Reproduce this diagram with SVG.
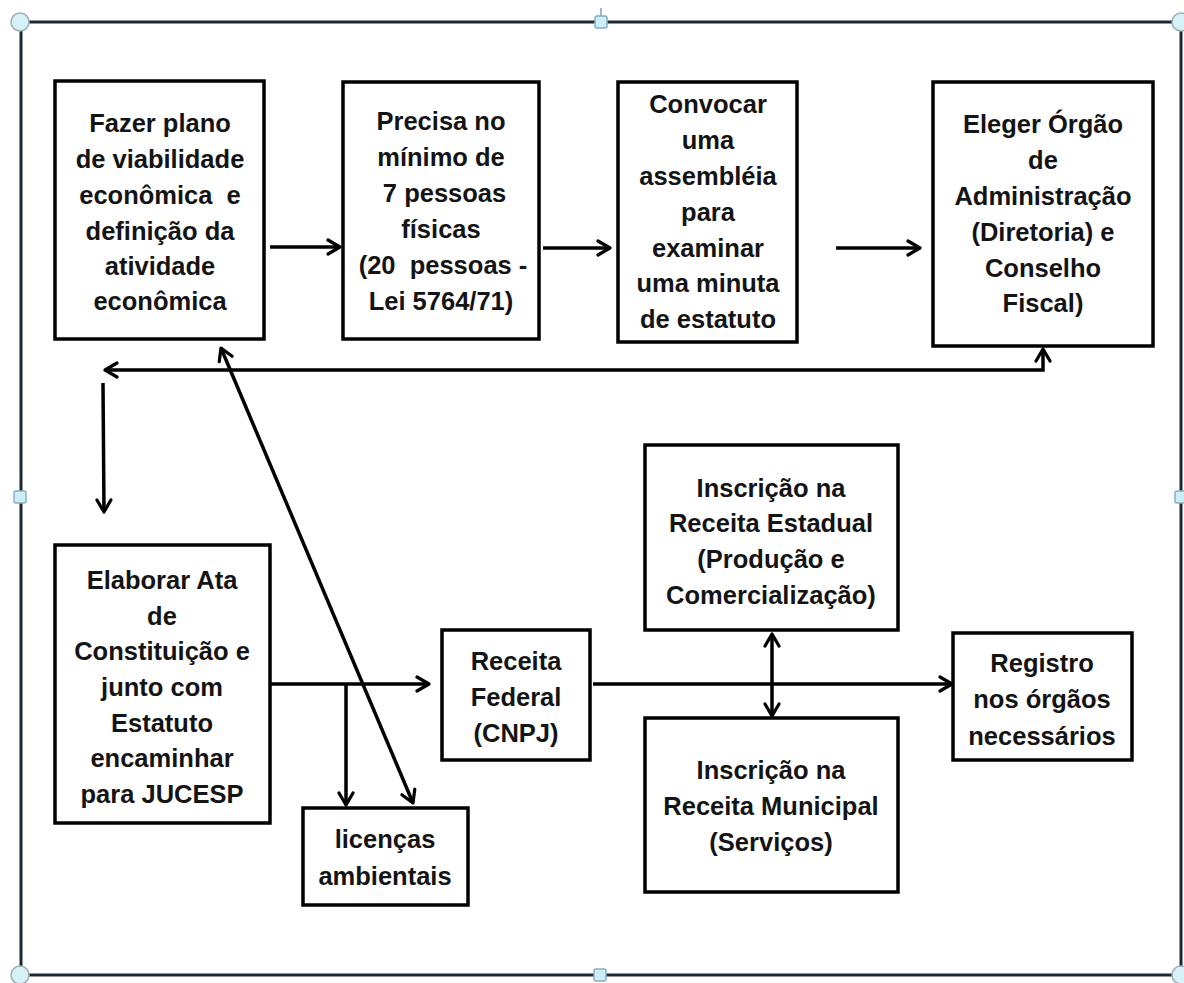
<svg xmlns="http://www.w3.org/2000/svg" width="1184" height="983" viewBox="0 0 1184 983">
  <style>
    .box { fill: #ffffff; stroke: #000000; stroke-width: 3.5; }
    .lbl { font-family: "Liberation Sans", Arial, sans-serif; font-weight: bold; font-size: 25.5px; fill: #141414; text-anchor: middle; white-space: pre; }
    .wire { fill: none; stroke: #000000; stroke-width: 3.5; }
    .frame { fill: none; stroke: #1c2833; stroke-width: 3; }
    .hc { fill: #d6f2f7; stroke: #a3aeb4; stroke-width: 1.5; }
    .hs { fill: #cdeef6; stroke: #88aec4; stroke-width: 1.5; }
  </style>
  <defs>
    <marker id="head" viewBox="0 0 18 18" refX="16" refY="9" markerWidth="18" markerHeight="18" markerUnits="userSpaceOnUse" orient="auto-start-reverse">
      <path d="M4,2 L16,9 L4,16" fill="none" stroke="#000" stroke-width="3.2" stroke-linecap="round" stroke-linejoin="round"/>
    </marker>
  </defs>

  <rect width="1184" height="983" fill="#ffffff"/>

  <!-- outer selection frame with handles -->
  <g id="frame">
    <rect class="frame" x="21" y="22" width="1160" height="953"/>
    <line x1="601" y1="8" x2="601" y2="16" stroke="#7f9fb5" stroke-width="1.5"/>
    <circle class="hc" cx="20" cy="22" r="9"/>
    <circle class="hc" cx="1181" cy="22" r="9"/>
    <circle class="hc" cx="20" cy="975" r="9"/>
    <circle class="hc" cx="1181" cy="975" r="9"/>
    <rect class="hs" x="595" y="16" width="12" height="12" rx="2"/>
    <rect class="hs" x="594" y="969" width="12" height="12" rx="2"/>
    <rect class="hs" x="14" y="491" width="12" height="12" rx="2"/>
    <rect class="hs" x="1175" y="491" width="12" height="12" rx="2"/>
  </g>

  <!-- connectors -->
  <g id="connectors">
    <line class="wire" x1="270" y1="247" x2="340" y2="247" marker-end="url(#head)"/>
    <line class="wire" x1="543" y1="248" x2="610" y2="248" marker-end="url(#head)"/>
    <line class="wire" x1="836" y1="248" x2="920" y2="248" marker-end="url(#head)"/>
    <polyline class="wire" points="105,370 1043,370 1043,349" marker-start="url(#head)" marker-end="url(#head)"/>
    <line class="wire" x1="103" y1="383" x2="104" y2="512" marker-end="url(#head)"/>
    <line class="wire" x1="221" y1="348" x2="413" y2="803" marker-start="url(#head)" marker-end="url(#head)"/>
    <line class="wire" x1="270" y1="684" x2="429" y2="684" marker-end="url(#head)"/>
    <line class="wire" x1="346" y1="684" x2="346" y2="805" marker-end="url(#head)"/>
    <line class="wire" x1="593" y1="684" x2="952" y2="684" marker-end="url(#head)"/>
    <line class="wire" x1="772" y1="634" x2="772" y2="716" marker-start="url(#head)" marker-end="url(#head)"/>
  </g>

  <g id="n1">
    <rect class="box" x="55" y="81" width="209" height="258"/>
    <text class="lbl" x="160" y="132">Fazer plano</text>
    <text class="lbl" x="160" y="168">de viabilidade</text>
    <text class="lbl" x="160" y="204">econômica  e</text>
    <text class="lbl" x="160" y="240">definição da</text>
    <text class="lbl" x="160" y="275">atividade</text>
    <text class="lbl" x="160" y="310">econômica</text>
  </g>

  <g id="n2">
    <rect class="box" x="343" y="82" width="196" height="257"/>
    <text class="lbl" x="441" y="130">Precisa no</text>
    <text class="lbl" x="441" y="166">mínimo de</text>
    <text class="lbl" x="441" y="202"> 7 pessoas</text>
    <text class="lbl" x="441" y="238">físicas</text>
    <text class="lbl" x="443" y="274">(20  pessoas -</text>
    <text class="lbl" x="441" y="310">Lei 5764/71)</text>
  </g>

  <g id="n3">
    <rect class="box" x="618" y="82" width="179" height="260"/>
    <text class="lbl" x="708" y="113">Convocar</text>
    <text class="lbl" x="708" y="149">uma</text>
    <text class="lbl" x="708" y="185">assembléia</text>
    <text class="lbl" x="708" y="221">para</text>
    <text class="lbl" x="708" y="257">examinar</text>
    <text class="lbl" x="708" y="292">uma minuta</text>
    <text class="lbl" x="708" y="328">de estatuto</text>
  </g>

  <g id="n4">
    <rect class="box" x="933" y="82" width="220" height="264"/>
    <text class="lbl" x="1043" y="133">Eleger Órgão</text>
    <text class="lbl" x="1043" y="169">de</text>
    <text class="lbl" x="1043" y="205">Administração</text>
    <text class="lbl" x="1043" y="241">(Diretoria) e</text>
    <text class="lbl" x="1043" y="277">Conselho</text>
    <text class="lbl" x="1043" y="312">Fiscal)</text>
  </g>

  <g id="n5">
    <rect class="box" x="55" y="545" width="215" height="278"/>
    <text class="lbl" x="162" y="589">Elaborar Ata</text>
    <text class="lbl" x="162" y="625">de</text>
    <text class="lbl" x="162" y="660">Constituição e</text>
    <text class="lbl" x="162" y="696">junto com</text>
    <text class="lbl" x="162" y="732">Estatuto</text>
    <text class="lbl" x="162" y="767">encaminhar</text>
    <text class="lbl" x="162" y="803">para JUCESP</text>
  </g>

  <g id="n6">
    <rect class="box" x="303" y="808" width="165" height="97"/>
    <text class="lbl" x="385" y="848">licenças</text>
    <text class="lbl" x="385" y="885">ambientais</text>
  </g>

  <g id="n7">
    <rect class="box" x="442" y="630" width="148" height="130"/>
    <text class="lbl" x="516" y="670">Receita</text>
    <text class="lbl" x="516" y="706">Federal</text>
    <text class="lbl" x="516" y="742">(CNPJ)</text>
  </g>

  <g id="n8">
    <rect class="box" x="645" y="445" width="253" height="185"/>
    <text class="lbl" x="771" y="497">Inscrição na</text>
    <text class="lbl" x="771" y="532">Receita Estadual</text>
    <text class="lbl" x="771" y="568">(Produção e</text>
    <text class="lbl" x="771" y="604">Comercialização)</text>
  </g>

  <g id="n9">
    <rect class="box" x="645" y="718" width="253" height="174"/>
    <text class="lbl" x="771" y="779">Inscrição na</text>
    <text class="lbl" x="771" y="815">Receita Municipal</text>
    <text class="lbl" x="771" y="851">(Serviços)</text>
  </g>

  <g id="n10">
    <rect class="box" x="953" y="633" width="179" height="127"/>
    <text class="lbl" x="1042" y="672">Registro</text>
    <text class="lbl" x="1042" y="708">nos órgãos</text>
    <text class="lbl" x="1042" y="745">necessários</text>
  </g>
</svg>
